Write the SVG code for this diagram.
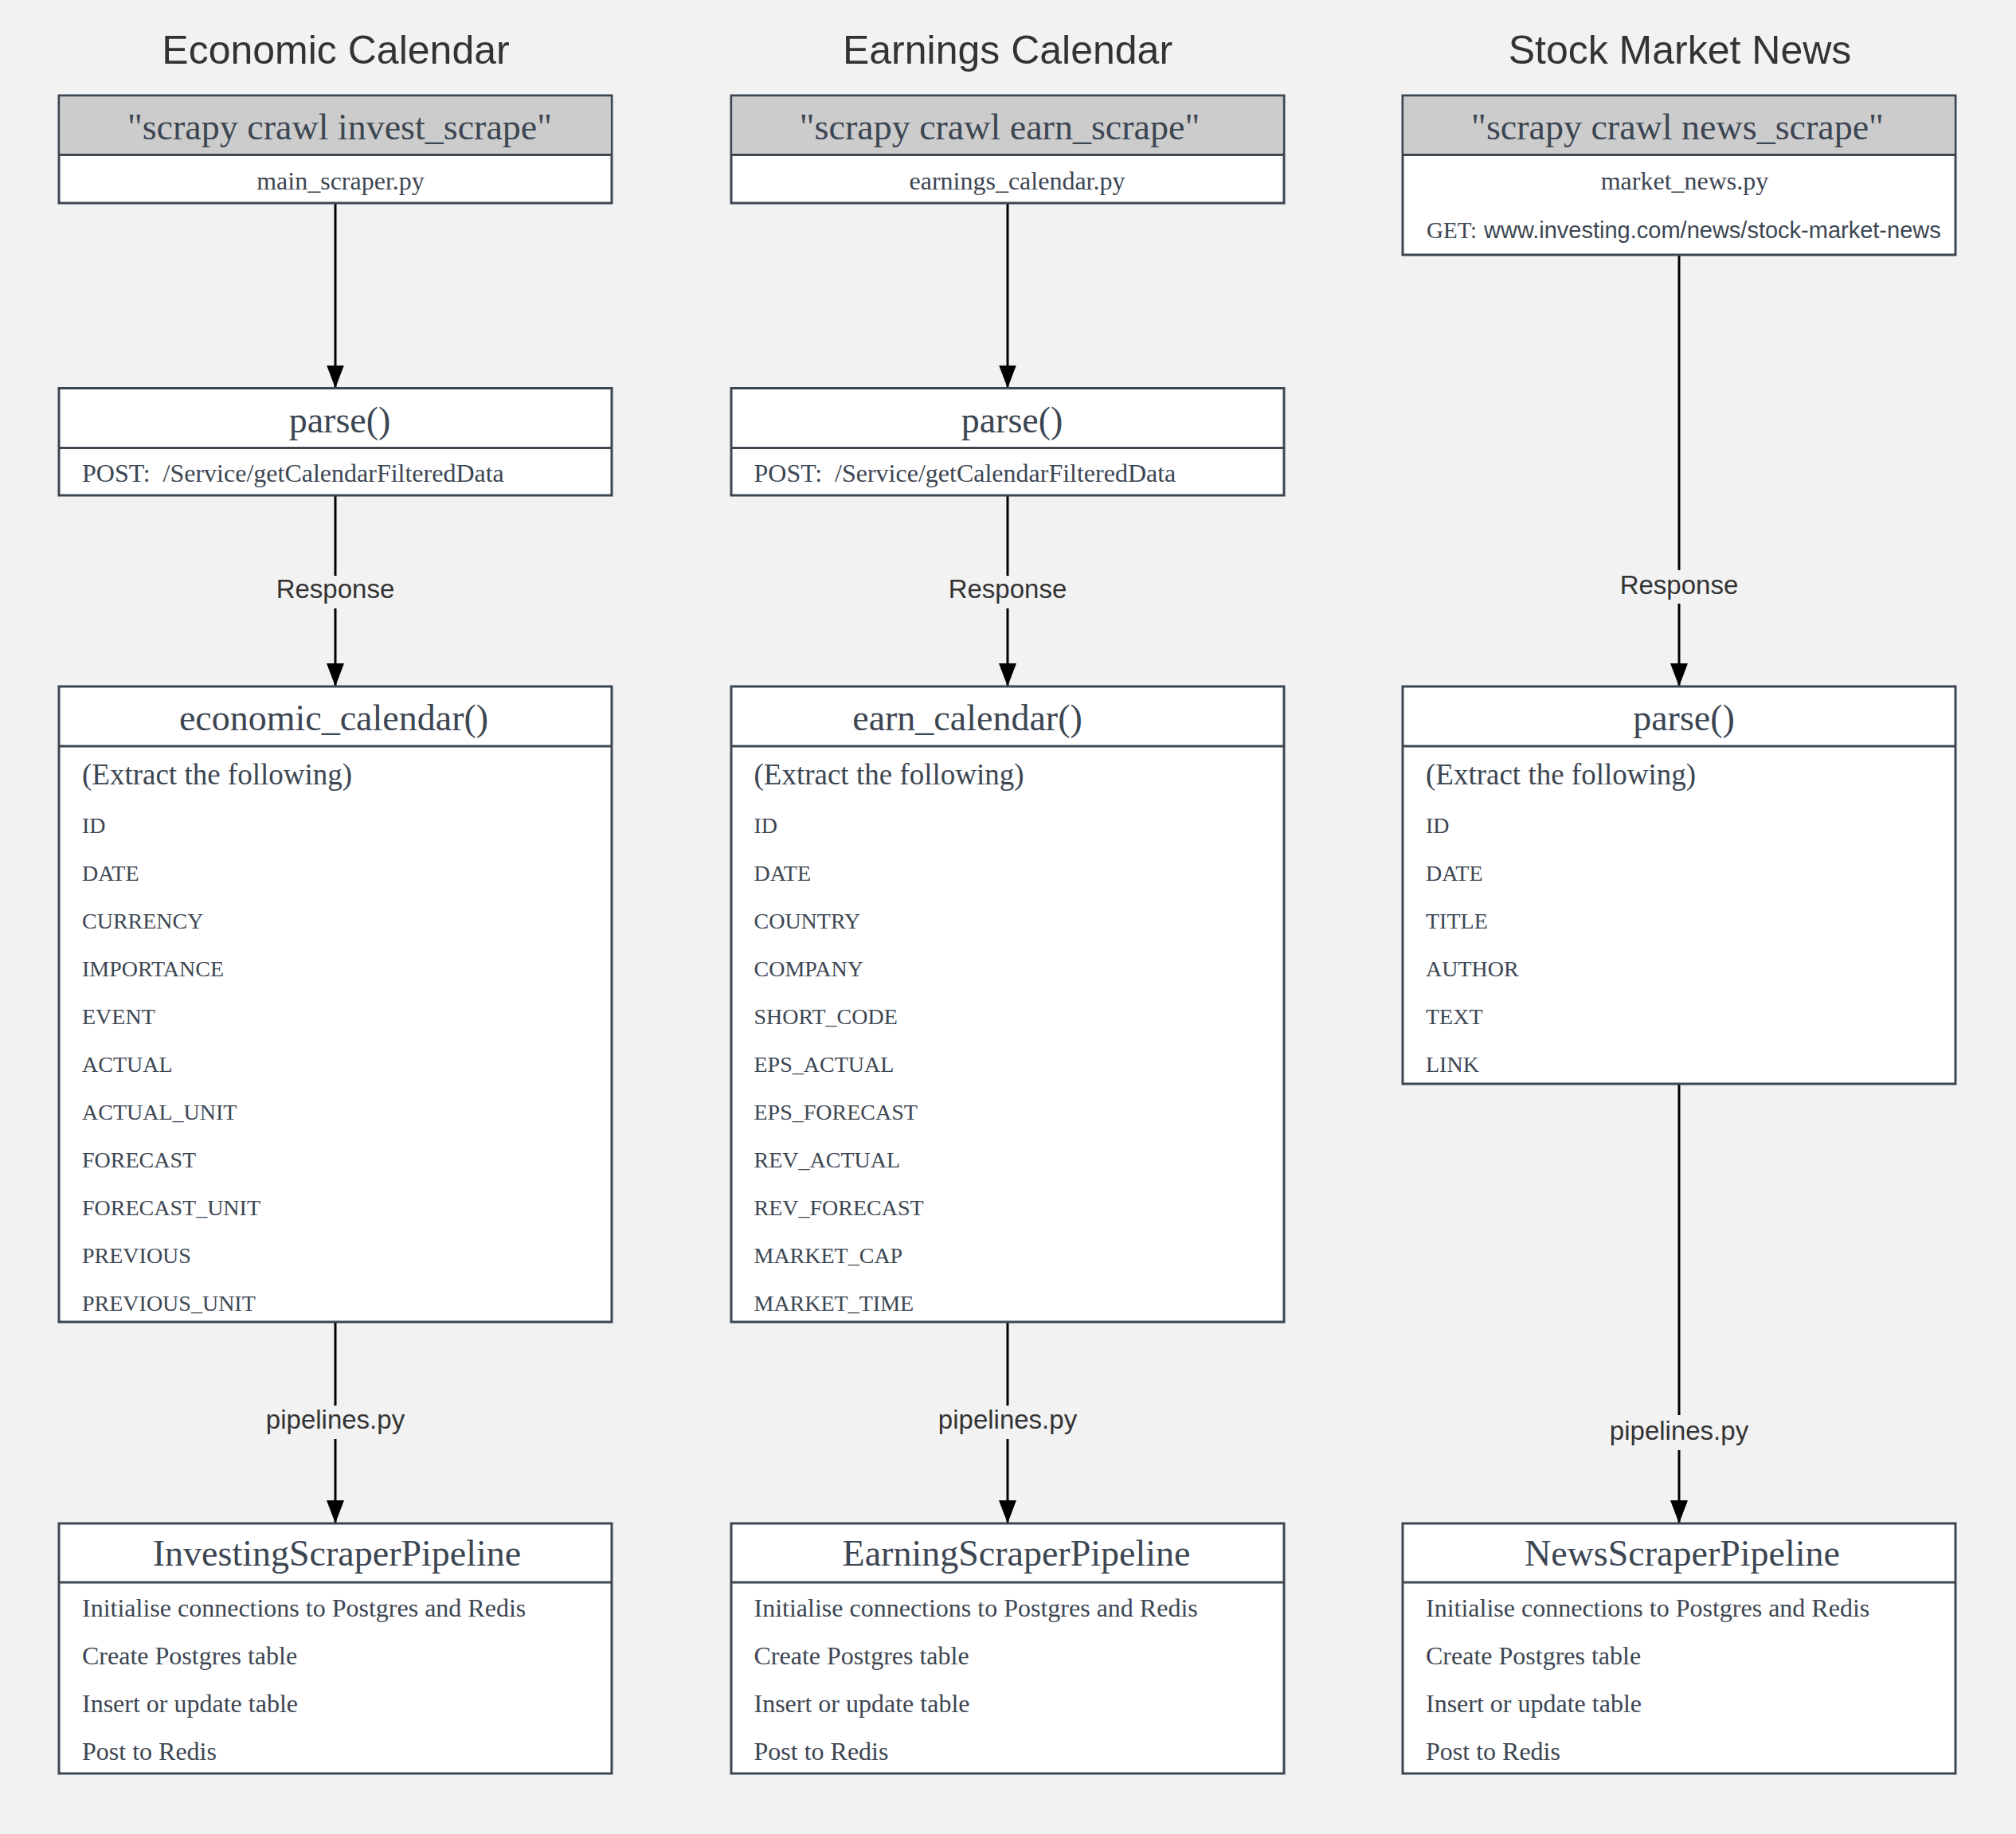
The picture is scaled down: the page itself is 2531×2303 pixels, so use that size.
<svg xmlns="http://www.w3.org/2000/svg" width="2531" height="2303" viewBox="0 0 2531 2303">
<defs>
<style>
.bg{fill:#f2f2f2}
.box{fill:#ffffff;stroke:#3d4752;stroke-width:3}
.hdr{fill:#cccccc;stroke:none}
.div{stroke:#3d4752;stroke-width:3}
.title{font-family:"Liberation Sans",Arial,sans-serif;font-size:50px;fill:#333333;text-anchor:middle}
.cn{font-family:"Liberation Serif","Times New Roman",serif;font-size:46px;fill:#3c4652;text-anchor:middle}
.m{font-family:"Liberation Serif","Times New Roman",serif;font-size:32px;fill:#3c4652}
.mc{text-anchor:middle}
.caps{font-size:28px}
.get{font-size:29px}
.ext{font-size:37px}
.sans{font-family:"Liberation Sans",Arial,sans-serif;font-size:29px}
.edge{fill:none;stroke:#000000;stroke-width:3;marker-end:url(#arr)}
.lblbg{fill:#f2f2f2}
.lbl{font-family:"Liberation Sans",Arial,sans-serif;font-size:33px;fill:#333333;text-anchor:middle}
</style>
<marker id="arr" markerUnits="userSpaceOnUse" viewBox="0 0 29 22" markerWidth="29" markerHeight="22" refX="29" refY="11" orient="auto">
<path d="M0,0 L29,11 L0,22 Z" fill="#000000"/>
</marker>
</defs>
<rect class="bg" x="0" y="0" width="2531" height="2303"/>

<g id="titles">
<text class="title" x="421.5" y="80">Economic Calendar</text>
<text class="title" x="1265" y="80">Earnings Calendar</text>
<text class="title" x="2109" y="80">Stock Market News</text>
</g>

<g id="connectors">
<path class="edge" d="M421,255 V487.5"/>
<path class="edge" d="M421,622 V862"/>
<path class="edge" d="M421,1660 V1913"/>
<path class="edge" d="M1265,255 V487.5"/>
<path class="edge" d="M1265,622 V862"/>
<path class="edge" d="M1265,1660 V1913"/>
<path class="edge" d="M2108,320 V862"/>
<path class="edge" d="M2108,1361 V1913"/>
<g id="label-invest-response"><rect class="lblbg" x="343" y="723" width="156" height="41"/><text class="lbl" x="421" y="751">Response</text></g>
<g id="label-invest-pipelines"><rect class="lblbg" x="329" y="1765" width="184" height="42"/><text class="lbl" x="421" y="1794">pipelines.py</text></g>
<g id="label-earn-response"><rect class="lblbg" x="1187" y="723" width="156" height="41"/><text class="lbl" x="1265" y="751">Response</text></g>
<g id="label-earn-pipelines"><rect class="lblbg" x="1173" y="1765" width="184" height="42"/><text class="lbl" x="1265" y="1794">pipelines.py</text></g>
<g id="label-news-response"><rect class="lblbg" x="2030" y="716" width="156" height="42"/><text class="lbl" x="2108" y="746">Response</text></g>
<g id="label-news-pipelines"><rect class="lblbg" x="2016" y="1777" width="184" height="44"/><text class="lbl" x="2108" y="1808">pipelines.py</text></g>
</g>

<!-- Column 1 -->
<g id="invest-scrape">
<rect class="box" x="74" y="120" width="694" height="135"/>
<rect class="hdr" x="75.5" y="121.5" width="691" height="73"/>
<line class="div" x1="74" y1="194.5" x2="768" y2="194.5"/>
<text class="cn" x="426.5" y="175">"scrapy crawl invest_scrape"</text>
<text class="m mc" x="427.5" y="238">main_scraper.py</text>
</g>
<g id="invest-parse">
<rect class="box" x="74" y="487.5" width="694" height="134.5"/>
<line class="div" x1="74" y1="562.5" x2="768" y2="562.5"/>
<text class="cn" x="426.5" y="543">parse()</text>
<text class="m" x="103" y="605">POST:&#160; /Service/getCalendarFilteredData</text>
</g>
<g id="economic-calendar">
<rect class="box" x="74" y="862" width="694" height="798"/>
<line class="div" x1="74" y1="937" x2="768" y2="937"/>
<text class="cn" x="419" y="917">economic_calendar()</text>
<text class="m ext" x="103" y="985">(Extract the following)</text>
<text class="m caps" x="103" y="1046">ID</text>
<text class="m caps" x="103" y="1106">DATE</text>
<text class="m caps" x="103" y="1166">CURRENCY</text>
<text class="m caps" x="103" y="1226">IMPORTANCE</text>
<text class="m caps" x="103" y="1286">EVENT</text>
<text class="m caps" x="103" y="1346">ACTUAL</text>
<text class="m caps" x="103" y="1406">ACTUAL_UNIT</text>
<text class="m caps" x="103" y="1466">FORECAST</text>
<text class="m caps" x="103" y="1526">FORECAST_UNIT</text>
<text class="m caps" x="103" y="1586">PREVIOUS</text>
<text class="m caps" x="103" y="1646">PREVIOUS_UNIT</text>
</g>
<g id="investing-pipeline">
<rect class="box" x="74" y="1913" width="694" height="314"/>
<line class="div" x1="74" y1="1987" x2="768" y2="1987"/>
<text class="cn" x="423" y="1966">InvestingScraperPipeline</text>
<text class="m" x="103" y="2030">Initialise connections to Postgres and Redis</text>
<text class="m" x="103" y="2090">Create Postgres table</text>
<text class="m" x="103" y="2150">Insert or update table</text>
<text class="m" x="103" y="2210">Post to Redis</text>
</g>

<!-- Column 2 -->
<g id="earn-scrape">
<rect class="box" x="918" y="120" width="694" height="135"/>
<rect class="hdr" x="919.5" y="121.5" width="691" height="73"/>
<line class="div" x1="918" y1="194.5" x2="1612" y2="194.5"/>
<text class="cn" x="1255" y="175">"scrapy crawl earn_scrape"</text>
<text class="m mc" x="1277" y="238">earnings_calendar.py</text>
</g>
<g id="earn-parse">
<rect class="box" x="918" y="487.5" width="694" height="134.5"/>
<line class="div" x1="918" y1="562.5" x2="1612" y2="562.5"/>
<text class="cn" x="1270.5" y="543">parse()</text>
<text class="m" x="946.5" y="605">POST:&#160; /Service/getCalendarFilteredData</text>
</g>
<g id="earn-calendar">
<rect class="box" x="918" y="862" width="694" height="798"/>
<line class="div" x1="918" y1="937" x2="1612" y2="937"/>
<text class="cn" x="1214.5" y="917">earn_calendar()</text>
<text class="m ext" x="946.5" y="985">(Extract the following)</text>
<text class="m caps" x="946.5" y="1046">ID</text>
<text class="m caps" x="946.5" y="1106">DATE</text>
<text class="m caps" x="946.5" y="1166">COUNTRY</text>
<text class="m caps" x="946.5" y="1226">COMPANY</text>
<text class="m caps" x="946.5" y="1286">SHORT_CODE</text>
<text class="m caps" x="946.5" y="1346">EPS_ACTUAL</text>
<text class="m caps" x="946.5" y="1406">EPS_FORECAST</text>
<text class="m caps" x="946.5" y="1466">REV_ACTUAL</text>
<text class="m caps" x="946.5" y="1526">REV_FORECAST</text>
<text class="m caps" x="946.5" y="1586">MARKET_CAP</text>
<text class="m caps" x="946.5" y="1646">MARKET_TIME</text>
</g>
<g id="earning-pipeline">
<rect class="box" x="918" y="1913" width="694" height="314"/>
<line class="div" x1="918" y1="1987" x2="1612" y2="1987"/>
<text class="cn" x="1276" y="1966">EarningScraperPipeline</text>
<text class="m" x="946.5" y="2030">Initialise connections to Postgres and Redis</text>
<text class="m" x="946.5" y="2090">Create Postgres table</text>
<text class="m" x="946.5" y="2150">Insert or update table</text>
<text class="m" x="946.5" y="2210">Post to Redis</text>
</g>

<!-- Column 3 -->
<g id="news-scrape">
<rect class="box" x="1761" y="120" width="694" height="200"/>
<rect class="hdr" x="1762.5" y="121.5" width="691" height="73"/>
<line class="div" x1="1761" y1="194.5" x2="2455" y2="194.5"/>
<text class="cn" x="2106" y="175">"scrapy crawl news_scrape"</text>
<text class="m mc" x="2115" y="238">market_news.py</text>
<text class="m" y="298.5"><tspan class="get" x="1791">GET:</tspan><tspan class="sans" x="1863">www.investing.com/news/stock-market-news</tspan></text>
</g>
<g id="news-parse">
<rect class="box" x="1761" y="862" width="694" height="499"/>
<line class="div" x1="1761" y1="937" x2="2455" y2="937"/>
<text class="cn" x="2114" y="917">parse()</text>
<text class="m ext" x="1790" y="985">(Extract the following)</text>
<text class="m caps" x="1790" y="1046">ID</text>
<text class="m caps" x="1790" y="1106">DATE</text>
<text class="m caps" x="1790" y="1166">TITLE</text>
<text class="m caps" x="1790" y="1226">AUTHOR</text>
<text class="m caps" x="1790" y="1286">TEXT</text>
<text class="m caps" x="1790" y="1346">LINK</text>
</g>
<g id="news-pipeline">
<rect class="box" x="1761" y="1913" width="694" height="314"/>
<line class="div" x1="1761" y1="1987" x2="2455" y2="1987"/>
<text class="cn" x="2112" y="1966">NewsScraperPipeline</text>
<text class="m" x="1790" y="2030">Initialise connections to Postgres and Redis</text>
<text class="m" x="1790" y="2090">Create Postgres table</text>
<text class="m" x="1790" y="2150">Insert or update table</text>
<text class="m" x="1790" y="2210">Post to Redis</text>
</g>
</svg>
